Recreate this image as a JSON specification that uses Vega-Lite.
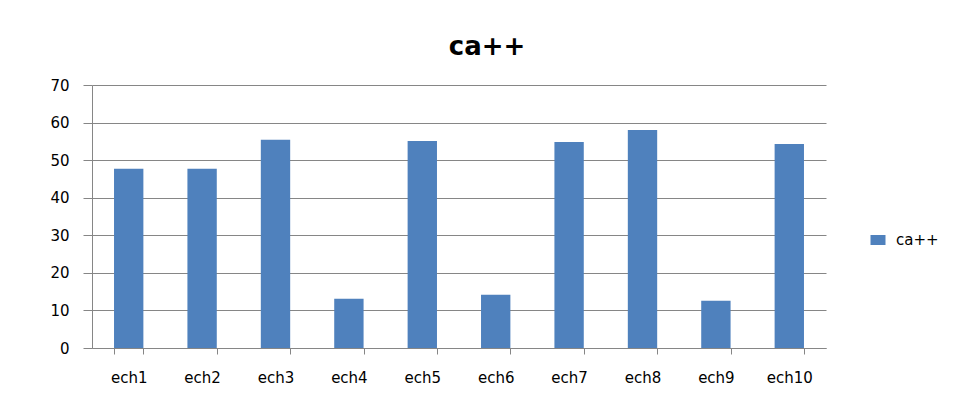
{
  "$schema": "https://vega.github.io/schema/vega-lite/v6.json",
  "width": 734,
  "height": 263,
  "autosize": {"type": "none"},
  "padding": {"left": 92, "top": 85, "right": 139, "bottom": 57},
  "background": "white",
  "title": {
    "text": "ca++",
    "font": "DejaVu Sans",
    "fontSize": 26,
    "fontWeight": "bold",
    "color": "#000000",
    "anchor": "middle",
    "dx": 28,
    "offset": 30,
    "dy": 33,
    "baseline": "alphabetic"
  },
  "data": {
    "values": [
      {"ech": "ech1", "value": 47.7, "serie": "ca++"},
      {"ech": "ech2", "value": 47.7, "serie": "ca++"},
      {"ech": "ech3", "value": 55.4, "serie": "ca++"},
      {"ech": "ech4", "value": 13.1, "serie": "ca++"},
      {"ech": "ech5", "value": 55.1, "serie": "ca++"},
      {"ech": "ech6", "value": 14.2, "serie": "ca++"},
      {"ech": "ech7", "value": 54.8, "serie": "ca++"},
      {"ech": "ech8", "value": 58.0, "serie": "ca++"},
      {"ech": "ech9", "value": 12.6, "serie": "ca++"},
      {"ech": "ech10", "value": 54.3, "serie": "ca++"}
    ]
  },
  "mark": {"type": "bar"},
  "encoding": {
    "x": {
      "field": "ech",
      "type": "nominal",
      "sort": null,
      "scale": {"paddingInner": 0.6, "paddingOuter": 0.3},
      "axis": {
        "title": null,
        "labelAngle": 0,
        "labelFont": "DejaVu Sans",
        "labelFontSize": 15,
        "labelColor": "#000000",
        "labelPadding": 16,
        "tickBand": "extent",
        "tickColor": "#868686",
        "tickSize": 6,
        "domainColor": "#868686",
        "grid": false
      }
    },
    "y": {
      "field": "value",
      "type": "quantitative",
      "scale": {"domain": [0, 70], "nice": false},
      "axis": {
        "title": null,
        "values": [0, 10, 20, 30, 40, 50, 60, 70],
        "labelFont": "DejaVu Sans",
        "labelFontSize": 15,
        "labelColor": "#000000",
        "labelPadding": 14,
        "tickColor": "#868686",
        "tickSize": 9,
        "domainColor": "#868686",
        "grid": true,
        "gridColor": "#868686",
        "gridOpacity": 1
      }
    },
    "color": {
      "field": "serie",
      "type": "nominal",
      "scale": {"range": ["#4F81BD"]},
      "legend": {
        "title": null,
        "orient": "none",
        "legendX": 776,
        "legendY": 145,
        "symbolType": "M-0.75,-0.5H0.75V0.5H-0.75Z",
        "symbolSize": 400,
        "symbolStrokeWidth": 0,
        "labelFont": "DejaVu Sans",
        "labelFontSize": 15,
        "labelColor": "#000000",
        "labelOffset": 8
      }
    }
  },
  "config": {
    "view": {"stroke": null}
  }
}
